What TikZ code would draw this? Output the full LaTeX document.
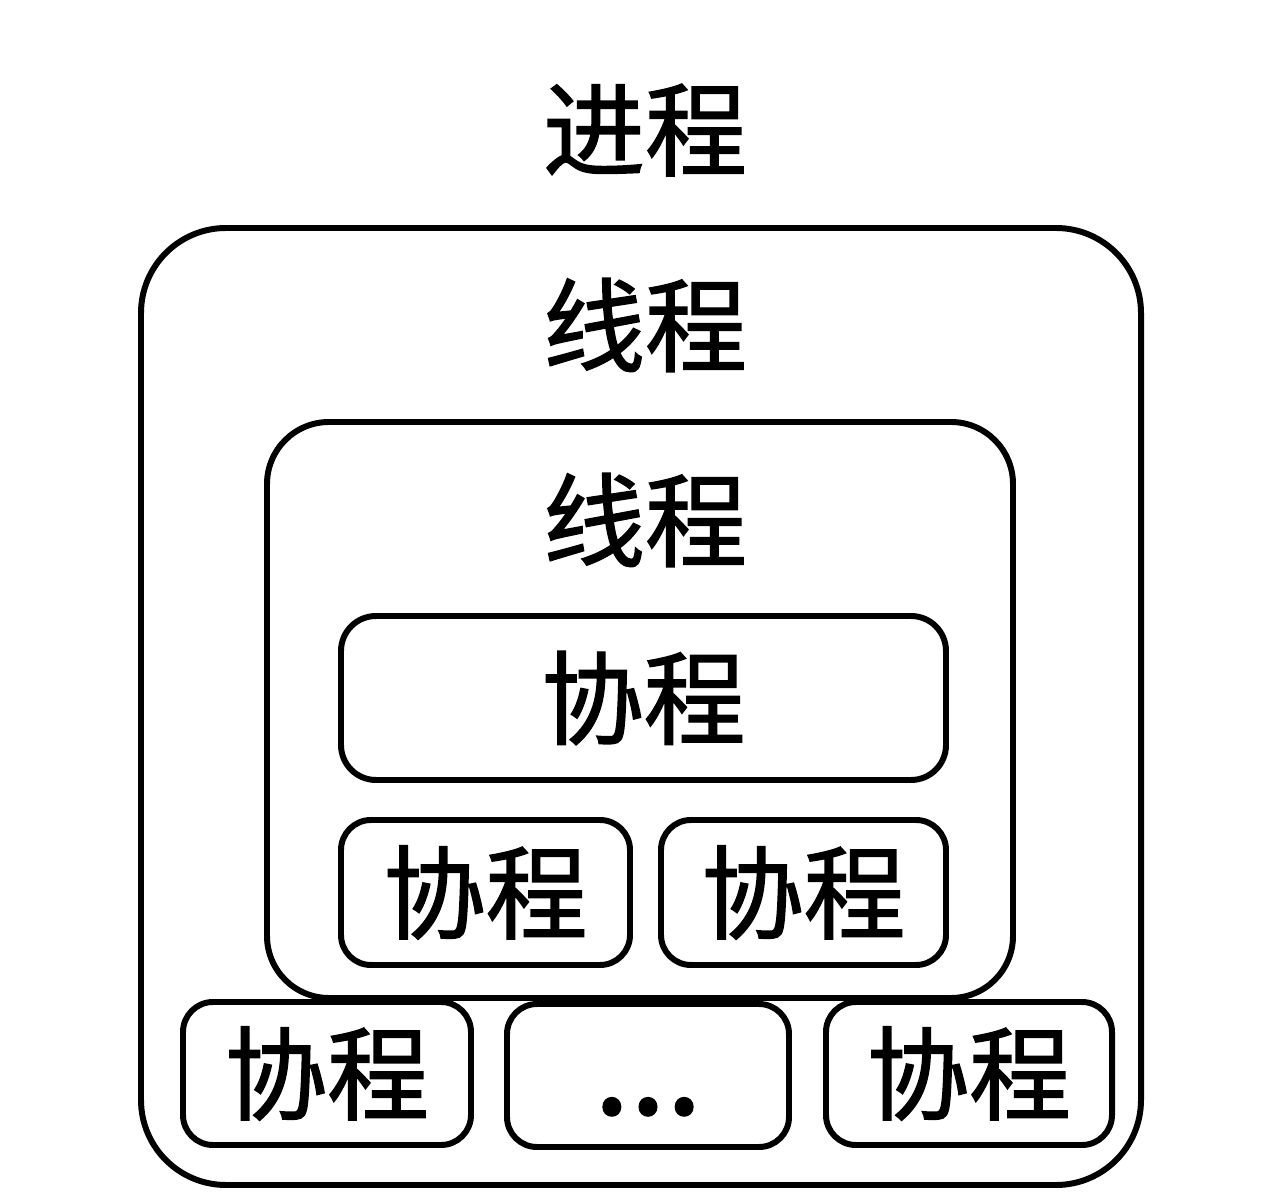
\documentclass[tikz,border=0pt]{standalone}
\usepackage{fontspec}
\newfontfamily\cjk[FakeBold=1.4]{Noto Sans CJK SC}
\usepackage{tikz}
\usetikzlibrary{positioning}

\tikzset{
    lvlbox/.style={draw=black, line width=3.4pt, inner sep=0pt, rounded corners=#1},
    lvlbox/.default=0.6cm,
    cjktext/.style={font=\cjk\fontsize{58pt}{62pt}\selectfont, inner sep=0pt}
}

\begin{document}
\begin{tikzpicture}
    \useasboundingbox[fill=white] (0,0) rectangle (25.6cm,24.06cm);

    % process level
    \node at (12.9cm, 21.46cm) [cjktext] (proctitle) {进程};
    \node at (12.82cm, 9.93cm) [lvlbox=1.7cm, minimum width=20cm, minimum height=19.14cm] (proc) {};

    % outer thread
    \node at (12.9cm, 17.56cm) [cjktext] (threadtitle) {线程};
    \node at (12.8cm, 9.86cm) [lvlbox=1.24cm, minimum width=14.92cm, minimum height=11.52cm] (thread) {};

    % inner thread
    \node at (12.9cm, 13.66cm) [cjktext] (subthreadtitle) {线程};
    \node at (12.87cm, 10.1cm) [lvlbox=0.7cm, minimum width=12.1cm, minimum height=3.28cm, cjktext] (corowide) {协程};
    \node at (9.71cm, 6.21cm) [lvlbox, minimum width=5.78cm, minimum height=2.9cm, cjktext] (coroa) {协程};
    \node at (16.07cm, 6.21cm) [lvlbox, minimum width=5.7cm, minimum height=2.9cm, cjktext] (corob) {协程};

    % coroutines directly in the process
    \node at (6.54cm, 2.59cm) [lvlbox, minimum width=5.76cm, minimum height=2.86cm, cjktext] (corol) {协程};
    \node at (12.96cm, 2.55cm) [lvlbox, minimum width=5.64cm, minimum height=2.86cm, cjktext] (corodots) {\vphantom{协}{\fontsize{74pt}{74pt}\selectfont...}};
    \node at (19.38cm, 2.59cm) [lvlbox, minimum width=5.72cm, minimum height=2.86cm, cjktext] (coror) {协程};
\end{tikzpicture}
\end{document}
